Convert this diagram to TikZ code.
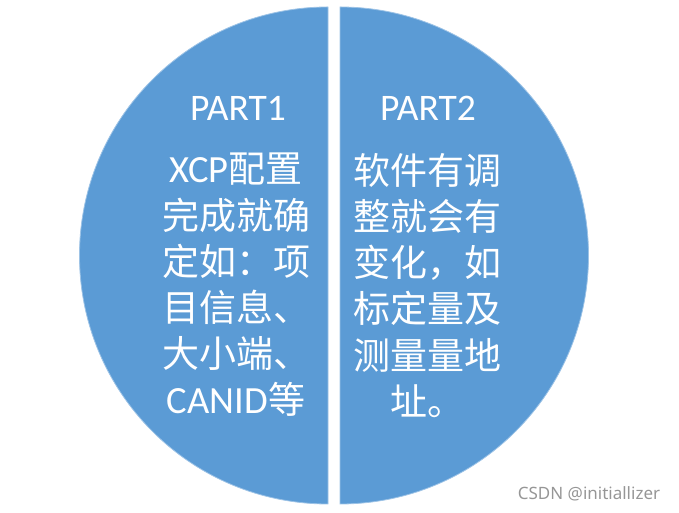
\documentclass[tikz,border=0pt]{standalone}
\usepackage{fontspec}
\setmainfont{Carlito}
\newfontfamily\cjk{Noto Sans CJK SC}
\newfontfamily\wmfont{Noto Sans}
\definecolor{pieblue}{RGB}{91,155,213}
\definecolor{wmgray}{RGB}{150,150,150}
\newcommand{\lat}[1]{{\fontsize{38.5}{46.2}\selectfont #1}}
\newcommand{\tightlines}{\lineskiplimit=-100pt\relax\lineskip=0pt\relax}
\tikzset{
  half/.style={fill=pieblue, draw=pieblue!60!white, line width=0.8pt},
  bodytext/.style={text=white, align=center, font={\fontsize{37}{46.2}\selectfont\tightlines}, inner sep=0pt},
  headtext/.style={text=white, font=\fontsize{37.5}{40}\selectfont, inner sep=0pt}
}
\begin{document}
\begin{tikzpicture}[x=1pt,y=1pt]
\useasboundingbox (0,0) rectangle (679,513);
% left half
\draw[half] (328,506) arc[start angle=90, end angle=270, radius=248.5] -- cycle;
% right half
\draw[half] (340,9) arc[start angle=-90, end angle=90, radius=248.5] -- cycle;
\node[headtext, anchor=center] (p1) at (238,405) {PART1};
\node[headtext, anchor=center] (p2) at (428,405) {PART2};
\node[bodytext, anchor=north] (t1) at (236,360) {%
\lat{XCP}{\cjk 配置}\\
{\cjk 完成就确}\\
{\cjk 定如：项}\\
{\cjk 目信息、}\\
{\cjk 大小端、}\\
\lat{CANID}{\cjk 等}};
\node[bodytext, anchor=north] (t2) at (427,360) {%
{\cjk 软件有调}\\
{\cjk 整就会有}\\
{\cjk 变化，如}\\
{\cjk 标定量及}\\
{\cjk 测量量地}\\
{\cjk 址。}};
\node[text=wmgray, font=\wmfont\fontsize{17}{19}\selectfont, inner sep=0pt] (wm) at (589,19) {CSDN @initiallizer};
\end{tikzpicture}
\end{document}
